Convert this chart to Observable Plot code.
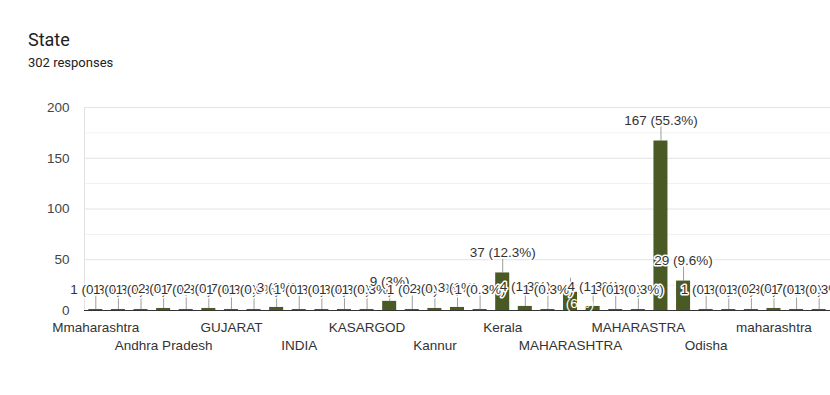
<!DOCTYPE html>
<html><head><meta charset="utf-8">
<script src="https://cdn.jsdelivr.net/npm/d3@7"></script>
<script src="https://cdn.jsdelivr.net/npm/@observablehq/plot@0.6"></script>
<style>
html,body{margin:0;padding:0;background:#fff;overflow:hidden;}
#wrap{position:relative;width:830px;height:395px;}
#title{position:absolute;left:28px;top:28px;font-family:Roboto,sans-serif;font-size:18px;line-height:24px;color:#202124;white-space:nowrap;}
#sub{position:absolute;left:28px;top:55px;font-family:Roboto,sans-serif;font-size:13px;line-height:16px;color:#202124;white-space:nowrap;}
#chart{position:absolute;left:0;top:0;}
</style></head>
<body>
<div id="wrap">
  <div id="chart"></div>
  <div id="title">State</div>
  <div id="sub">302 responses</div>
</div>
<script>
const categories = [
  "Mmaharashtra", "ASSAM", "Andhra", "Andhra Pradesh", "Bihar", "Delhi",
  "GUJARAT", "Goa", "Gujarat", "INDIA", "India", "KARNATAKA",
  "KASARGOD", "KERALA", "Kalyan", "Kannur", "Karnataka", "Kasaragod",
  "Kerala", "Kerela", "MAHARASHRA", "MAHARASHTRA", "MAHARASHTRA, INDIA", "MAHARASHTTRA",
  "MAHARASTRA", "Maharashtra", "Mumbai", "Odisha", "Punjab", "Tamil Nadu",
  "maharashtra", "mumbai", "pune"
];
const counts = [
  1, 1, 1, 2, 1, 2,
  1, 1, 3, 1, 1, 1,
  1, 9, 1, 2, 3, 1,
  37, 4, 1, 18, 4, 1,
  1, 167, 29, 1, 1, 1,
  2, 1, 1
];
const yTicks = [0, 50, 100, 150, 200];
const yMinorTicks = [25, 75, 125, 175];
const insideLabelCategories = ["MAHARASHTRA"];

const total = d3.sum(counts);
const data = categories.map((c, i) => ({category: c, count: counts[i]}));
const label = d => `${d.count} (${Math.round(d.count / total * 1000) / 10}%)`;
const topTicks = categories.filter((c, i) => i % 6 === 0);
const bottomTicks = categories.filter((c, i) => i % 6 === 3);

const chart = Plot.plot({
  width: 830, height: 395,
  marginTop: 107, marginBottom: 85, marginLeft: 84, marginRight: 0,
  style: {fontFamily: "'Liberation Sans', Arial, sans-serif", fontSize: "13.5px", color: "#333", background: "white"},
  x: {type: "band", domain: categories, paddingInner: 0.38, paddingOuter: 0.19, round: false, axis: null},
  y: {domain: [0, 200], axis: null},
  marks: [
    Plot.gridY(yMinorTicks, {stroke: "#f1f1f1", strokeOpacity: 1}),
    Plot.gridY(yTicks, {stroke: "#e2e2e2", strokeOpacity: 1}),
    Plot.frame({anchor: "left", stroke: "#e2e2e2"}),
    Plot.axisY(yTicks, {tickSize: 0, tickPadding: 15, fill: "#444", fontSize: 13.5, label: null}),
    Plot.axisX(topTicks, {tickSize: 0, tickPadding: 12, fill: "#333", fontSize: 13.5, label: null}),
    Plot.axisX(bottomTicks, {tickSize: 0, tickPadding: 30, fill: "#333", fontSize: 13.5, label: null}),
    Plot.ruleX(data, {x: "category", y1: "count", y2: "count", insetTop: -14, stroke: "#9e9e9e", strokeWidth: 1}),
    Plot.barY(data, {x: "category", y: "count", fill: "#4a5a24"}),
    Plot.ruleY([0], {stroke: "#333", strokeWidth: 1}),
    Plot.text(data.filter(d => insideLabelCategories.includes(d.category)), {
      x: "category", y: "count", text: label, dy: 11, fill: "white", fontSize: 13.5
    }),
    Plot.text(data.filter(d => !insideLabelCategories.includes(d.category)), {
      x: "category", y: "count", text: label, dy: -20, fill: "#333",
      stroke: "white", strokeWidth: 3, fontSize: 13.5
    })
  ]
});
document.getElementById("chart").appendChild(chart);
</script>
</body></html>
